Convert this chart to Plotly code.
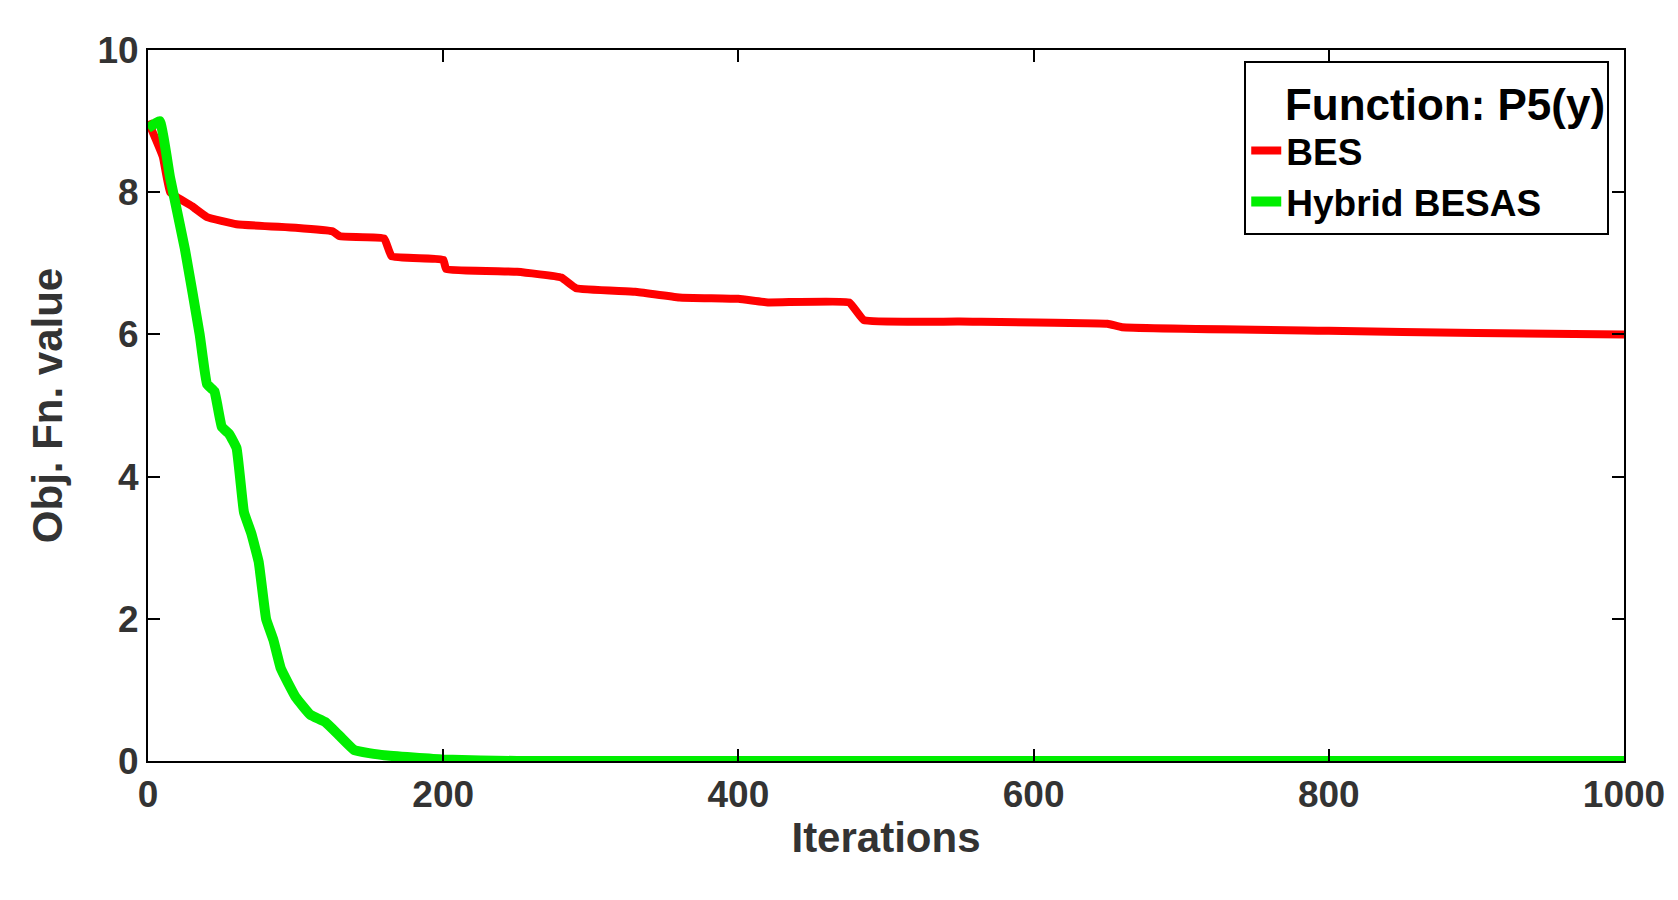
import plotly.graph_objects as go

# BES convergence curve
bes_x = [0, 10, 15, 30, 40, 60, 100, 125, 130, 160, 165, 200, 202, 250, 280, 290,
         330, 360, 400, 420, 475, 485, 550, 650, 660, 800, 900, 1000]
bes_y = [9.0, 8.5, 8.0, 7.8, 7.65, 7.55, 7.5, 7.45, 7.38, 7.35, 7.1, 7.05, 6.92, 6.88,
         6.8, 6.65, 6.6, 6.52, 6.5, 6.45, 6.45, 6.2, 6.18, 6.15, 6.1, 6.05, 6.02, 6.0]

# Hybrid BESAS convergence curve
hyb_x = [0, 8, 15, 25, 35, 40, 45, 50, 55, 60, 65, 70, 75, 80, 85, 90, 100, 110,
         120, 130, 140, 160, 200, 250, 1000]
hyb_y = [8.9, 9.0, 8.2, 7.2, 6.0, 5.3, 5.2, 4.7, 4.6, 4.4, 3.5, 3.2, 2.8, 2.0, 1.7,
         1.3, 0.9, 0.65, 0.55, 0.35, 0.15, 0.08, 0.02, 0.0, 0.0]

font = dict(family="Liberation Sans, Arial", size=37, color="#333333")
title_font = dict(family="Liberation Sans, Arial", size=42, color="#333333")

fig = go.Figure()
fig.add_trace(go.Scatter(x=bes_x, y=bes_y, mode="lines", name="<b>BES</b>",
                         line=dict(color="#ff0000", width=8, shape="spline", smoothing=0.3)))
fig.add_trace(go.Scatter(x=hyb_x, y=hyb_y, mode="lines", name="<b>Hybrid BESAS</b>",
                         line=dict(color="#00ee00", width=10, shape="spline", smoothing=0.3)))

axis = dict(showline=True, linecolor="black", linewidth=2, mirror="ticks",
            ticks="inside", ticklen=12, tickwidth=2, tickcolor="black",
            showgrid=False, zeroline=False, tickfont=font,
            tickprefix="<b>", ticksuffix="</b>")

fig.update_xaxes(range=[0, 1000], dtick=200,
                 title=dict(text="<b>Iterations</b>", font=title_font, standoff=8), **axis)
fig.update_yaxes(range=[0, 10], dtick=2,
                 title=dict(text="<b>Obj. Fn. value</b>", font=title_font, standoff=22), **axis)

fig.update_layout(
    width=1678, height=900,
    margin=dict(l=140, r=62, t=42, b=147),
    plot_bgcolor="white", paper_bgcolor="white",
    font=font,
    legend=dict(x=0.99, y=0.985, xanchor="right", yanchor="top",
                title=dict(text="<b>   Function: P5(y)</b>", side="top"),
                bgcolor="white", bordercolor="black", borderwidth=2,
                tracegroupgap=0,
                font=dict(family="Liberation Sans, Arial", size=37, color="black")),
)

fig.write_html("out.html")
